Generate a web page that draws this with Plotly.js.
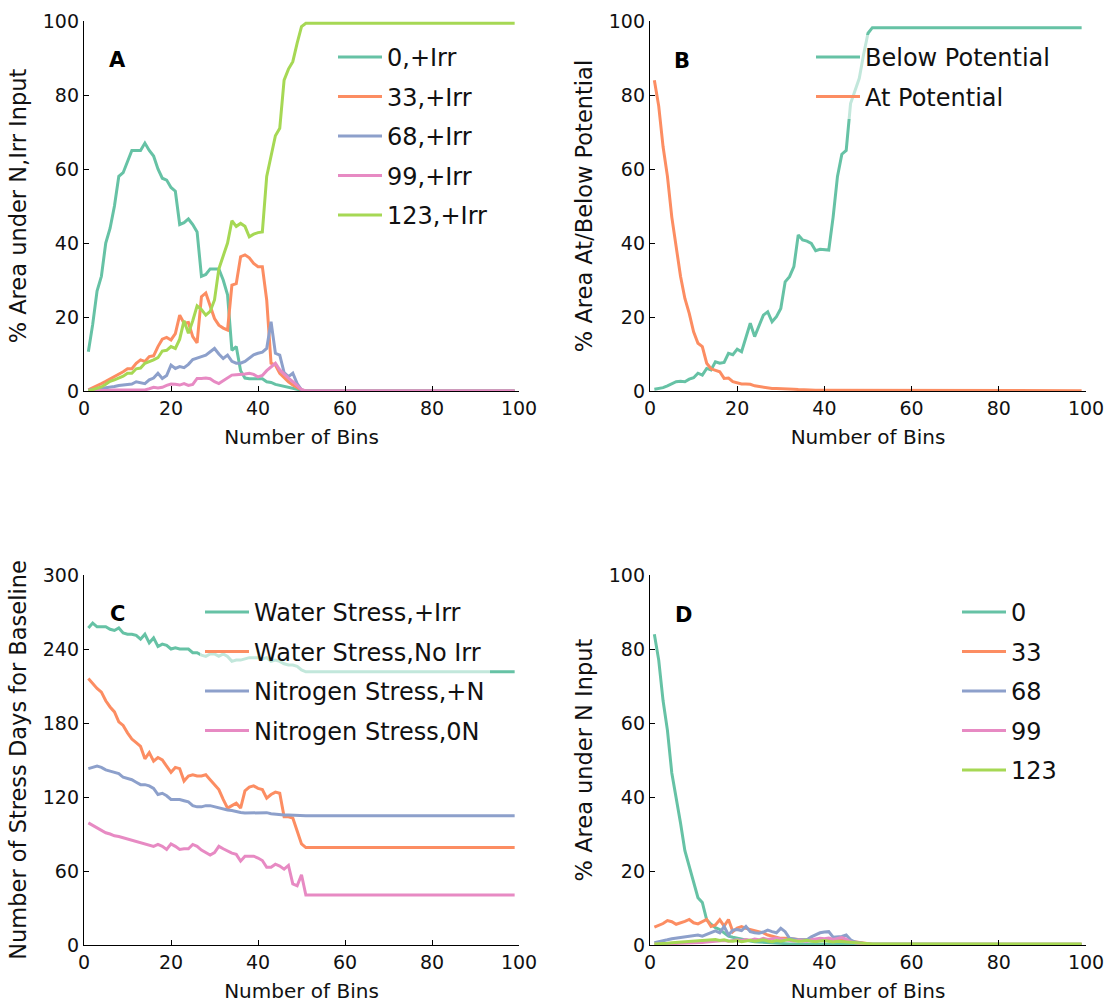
<!DOCTYPE html>
<html>
<head>
<meta charset="utf-8">
<script src="https://cdn.plot.ly/plotly-3.0.1.min.js"></script>
<style>
  html, body { margin: 0; padding: 0; background: #fff; }
  #chart { width: 1108px; height: 1003px; }
</style>
</head>
<body>
<div id="chart"></div>
<script>
// Bin numbers: every bin up to 51, after which all series stay flat to bin 99
const bins = [1,2,3,4,5,6,7,8,9,10, 11,12,13,14,15,16,17,18,19,20,
              21,22,23,24,25,26,27,28,29,30, 31,32,33,34,35,36,37,38,39,40,
              41,42,43,44,45,46,47,48,49,50, 51,99];

// Panel A: % area under each N input with irrigation
const aLabels = ['0,+Irr', '33,+Irr', '68,+Irr', '99,+Irr', '123,+Irr'];
const aN0 = [10.6,18,27,31,40,44,50,58,59,62, 65,65,65,67,65,63.5,60,57.5,57,55,
             54,45,45.5,46.5,45,43,31,31.5,33,33, 33,30,26,11,12,5.5,3.5,3.3,3.3,3.3,
             3.3,2.5,2.3,1.8,1.5,1.2,1,0.8,0.5,0.2, 0,0];
const aN33 = [0.3,0.8,1.3,2,2.6,3.2,4,4.5,5.2,6, 6,7.5,8.4,8,9.3,9.5,12,14,14.5,13.8,
              15.5,20.5,18.3,18.5,14.7,13,25.5,26.5,23,19.6, 17.8,17,16.5,28.6,29,36.3,36.8,36,34.5,33.6,
              33.6,24.6,7.5,7,4.8,3.5,2.5,1.6,1,0.3, 0,0];
const aN68 = [0.2,0.3,0.5,0.7,0.9,1,1.2,1.5,1.6,1.8, 1.9,2.5,2.2,2,3,3.5,4.8,3.4,4.2,7,
              6.1,6.6,6.3,7.2,8.5,9,9.3,9.7,10.5,11.5, 10,8.8,9.7,8,7.5,7.5,8,9,9.8,10.2,
              10.5,11.5,18.7,10.2,9.7,5,3.9,4.8,2,0.3, 0,0];
const aN99 = [0,0,0.1,0.1,0.2,0.2,0.3,0.3,0.4,0.4, 0.5,0.4,0.3,0.3,0.6,1,0.8,1,1.5,1.9,
              1.8,1.6,2,1.5,1.8,3.4,3.4,3.5,3.3,2.5, 2,2.8,3.5,4.3,4.4,4.4,4.6,4.8,4.5,3.8,
              4.2,5.5,6.5,7.5,5.7,4.5,3.5,2.5,1.5,0.4, 0,0];
const aN123 = [0,0.3,0.6,1.1,1.8,2.6,3,3.5,4,4.8, 4.8,6,6.2,7.5,7.9,8.4,9,10.8,11,12,
               11.5,14,19,15.6,19,23,22,20.5,21.5,24.6, 33,36.3,40,46,44.5,45.3,44.5,41.7,42.4,42.8,
               43,58,63.3,69,71,84,87,89,94,98.5, 99.4,99.4];

// Panel B: % area below / at potential
const bLabels = ['Below Potential', 'At Potential'];
const bBelow = [0.5,0.6,0.9,1.4,2,2.5,2.6,2.5,3.2,3.6, 4.8,4.3,6.1,5.7,7.9,7.5,7.7,10.2,9.8,11.3,
                10.6,14.2,18.3,14.7,17.8,20.5,21.4,18.7,20.1,22.3, 29.5,30.9,33.6,42.2,40.8,40.5,39.9,37.9,38.3,38.3,
                38.1,47,58,64,65,77.7,81,84.5,91,96.7, 98.2,98.2];
const bAt = [84,77,66,58,47,39,31,25,21,16, 12.9,12,7.5,6,5.5,5.2,3.4,3.5,2.5,2.1,
             1.9,1.9,1.8,1.4,1.2,0.9,0.8,0.7,0.7,0.7, 0.6,0.5,0.5,0.4,0.3,0.3,0.2,0.2,0.2,0.2,
             0.2,0.2,0.2,0.2,0.2,0.1,0.1,0.1,0.1,0.1, 0.1,0.1];

// Panel C: number of stress days for the baseline
const cLabels = ['Water Stress,+Irr', 'Water Stress,No Irr', 'Nitrogen Stress,+N', 'Nitrogen Stress,0N'];
const cWaterIrr = [257,261,258,258,258,256,255,257,253,252, 252,251,248,252,245,249,242,244,243,240,
                   241,240,240,240,237,237,235,234,236,236, 234,236,234,230,231,231,232,233,233,233,
                   232,233,230,231,230,228,227,227,226,223, 221.5,221.5];
const cWaterNoIrr = [216,212,208,205,198,193,189,181,178,172, 167,164,161,151,156,149,152,150,145,140,
                     144,143,133,137,138,137,137,138,134,130, 126,118,111,113,115,111,125,128,129,127,
                     126,119,122,124,123,104,104,103,92,82, 79,79];
const cNitroN = [143,144,145,144,142,141,140,139,136,135, 134,132,130,130,129,127,122,123,121,118,
                 118,118,117,116,113,112,112,113,113,112, 111,110,109.5,109,108,107.5,107,107,107,107,
                 107,107.3,106.5,106,106,105.5,105.4,105.2,105,105, 104.8,104.8];
const cNitro0N = [99,97,95,93,91,90,88.5,88,87,86, 85.5,84.5,83.5,82.5,81.5,80,81.5,80,77.5,82,
                  80,77.5,78,78,81.5,80,77,75,73,75, 80,78,76,74.5,73.5,68,72,72,72,70.5,
                  68.5,63,63,65.5,64,61.5,64.5,49.5,48,57, 40.5,40.5];

// Panel D: % area under each N input
const dLabels = ['0', '33', '68', '99', '123'];
const dN0 = [84,77,66,58,46.5,40,33,25.5,21.5,17, 12.8,11.5,6.8,5.6,4.7,4.2,3.4,2.4,2.1,1.8,
             1.5,1.3,1.1,0.9,0.8,0.7,0.6,0.5,0.4,0.3, 0.3,0.3,0.3,0.3,0.3,0.3,0.3,0.3,0.3,0.3,
             0.1,0.1,0.1,0.1,0.1,0.1,0.1,0.1,0.1,0.1, 0.1,0.1];
const dN33 = [4.8,5.2,5.8,6.6,6.3,5.6,5.9,6.4,6.9,6, 5.7,6.4,6.9,5,5.4,6.8,5.1,6.9,3.6,4.6,
              5,4.5,4.2,3.9,3.6,3.3,2.7,2.4,2.1,1.8, 1.8,1.8,1.6,1.5,1.4,1.4,1.4,1.4,1.4,1.4,
              1.2,1.2,1.2,1.2,1.2,1,0.8,0.6,0.4,0.3, 0.2,0.2];
const dN68 = [0.6,0.8,1.1,1.4,1.7,1.9,2,2.1,2.3,2.5, 2.7,2.4,2.9,3.2,3.8,3.3,5,2.7,4,4.2,
              3.9,5,3.6,3.3,3.2,3.5,4,3.6,3.3,4.5, 3.6,1.8,1.5,1.4,1.4,1.4,2.2,2.7,3.3,3.5,
              3.6,2.1,2.2,2.3,2.7,1.4,0.8,0.5,0.4,0.3, 0.2,0.2];
const dN99 = [0.2,0.2,0.3,0.3,0.4,0.4,0.5,0.5,0.6,0.6, 0.7,0.7,0.8,0.9,1,1.1,1.2,1,1.3,1.4,
              1.2,1.5,1.3,1.6,1.4,1.8,1.5,1.7,1.9,1.6, 1.4,1.2,1.1,1.3,1.2,1,1.4,1.6,1.8,1.7,
              1.9,1.5,1.8,2,1.6,0.9,0.6,0.4,0.3,0.2, 0.1,0.1];
const dN123 = [0.3,0.3,0.4,0.5,0.6,0.7,0.8,0.9,1,1.1, 1,1.2,1.4,1.3,1.5,1.2,1.4,1.1,1,1.2,
               0.9,1.1,1.3,1,1.2,1.4,1.1,0.9,1.2,1, 1.3,1.5,1.2,1,1.1,1.3,1,0.9,1.1,1.2,
               1,0.8,1,0.9,0.8,0.7,0.6,0.5,0.4,0.3, 0.3,0.3];

// Set2 colours
const palette = ['#66c2a5', '#fc8d62', '#8da0cb', '#e78ac3', '#a6d854'];
const FONT = 'DejaVu Sans, Verdana, sans-serif';
const W = 1108, H = 1003;

function line(y, name, i, xa, ya, leg) {
  return {
    x: bins, y: y, name: name, type: 'scatter', mode: 'lines',
    xaxis: xa, yaxis: ya, legend: leg, legendgroup: leg + '_' + i,
    line: { color: palette[i], width: 3 },
    hoverinfo: 'x+y+name'
  };
}

const traces = [];
[aN0, aN33, aN68, aN99, aN123].forEach((s, i) => traces.push(line(s, aLabels[i], i, 'x', 'y', 'legend')));
[bBelow, bAt].forEach((s, i) => traces.push(line(s, bLabels[i], i, 'x2', 'y2', 'legend2')));
[cWaterIrr, cWaterNoIrr, cNitroN, cNitro0N].forEach((s, i) => traces.push(line(s, cLabels[i], i, 'x3', 'y3', 'legend3')));
[dN0, dN33, dN68, dN99, dN123].forEach((s, i) => traces.push(line(s, dLabels[i], i, 'x4', 'y4', 'legend4')));

// pixel helpers for placing things on the page
const px = v => v / W;
const py = v => 1 - v / H;

function xAxis(l, r, anchor) {
  return {
    domain: [px(l), px(r)], range: [0, 100], tick0: 0, dtick: 20, anchor: anchor,
    showline: true, linecolor: '#000', linewidth: 1.3, mirror: false,
    ticks: 'inside', ticklen: 5, tickwidth: 1, tickcolor: '#000',
    showgrid: false, zeroline: false, fixedrange: true, automargin: false,
    tickfont: { family: FONT, size: 19, color: '#111' },
    title: { text: 'Number of Bins', font: { family: FONT, size: 20, color: '#111' }, standoff: 12 }
  };
}
function yAxis(top, bottom, maxv, dtick, anchor, title) {
  return {
    domain: [py(bottom), py(top)], range: [0, maxv], tick0: 0, dtick: dtick, anchor: anchor,
    showline: true, linecolor: '#000', linewidth: 1.3, mirror: false,
    ticks: 'inside', ticklen: 5, tickwidth: 1, tickcolor: '#000',
    showgrid: false, zeroline: false, fixedrange: true, automargin: false,
    tickfont: { family: FONT, size: 19, color: '#111' },
    title: { text: title, font: { family: FONT, size: 22.5, color: '#111' }, standoff: 9 }
  };
}

function legendAt(left, top) {
  return {
    x: px(left), y: py(top), xanchor: 'left', yanchor: 'top',
    bgcolor: 'rgba(255,255,255,0.6)', borderwidth: 0,
    font: { family: FONT, size: 24, color: '#111' },
    traceorder: 'grouped', tracegroupgap: 5.3, itemwidth: 44
  };
}

function letter(t, x, y) {
  return {
    text: t, xref: 'paper', yref: 'paper', x: px(x), y: py(y),
    xanchor: 'center', yanchor: 'middle', showarrow: false,
    font: { family: FONT, size: 21, color: '#000', weight: 'bold' }
  };
}

const layout = {
  width: W, height: H,
  margin: { l: 0, r: 0, t: 0, b: 0 },
  paper_bgcolor: '#fff', plot_bgcolor: 'rgba(0,0,0,0)',
  showlegend: true,
  xaxis:  xAxis(84, 519, 'y'),
  yaxis:  yAxis(21, 391, 100, 20, 'x', '% Area under N,Irr Input'),
  xaxis2: xAxis(650, 1086, 'y2'),
  yaxis2: yAxis(21, 391, 100, 20, 'x2', '% Area At/Below Potential'),
  xaxis3: xAxis(84, 519, 'y3'),
  yaxis3: yAxis(575, 945, 300, 60, 'x3', 'Number of Stress Days for Baseline'),
  xaxis4: xAxis(650, 1086, 'y4'),
  yaxis4: yAxis(575, 945, 100, 20, 'x4', '% Area under N Input'),
  legend:  legendAt(333, 35),
  legend2: legendAt(811, 35),
  legend3: legendAt(200, 590),
  legend4: legendAt(957, 590),
  annotations: [
    letter('A', 117, 60),
    letter('B', 682, 61),
    letter('C', 117, 614),
    letter('D', 683, 615)
  ]
};

Plotly.newPlot('chart', traces, layout, { displayModeBar: false, responsive: false });
</script>
</body>
</html>
